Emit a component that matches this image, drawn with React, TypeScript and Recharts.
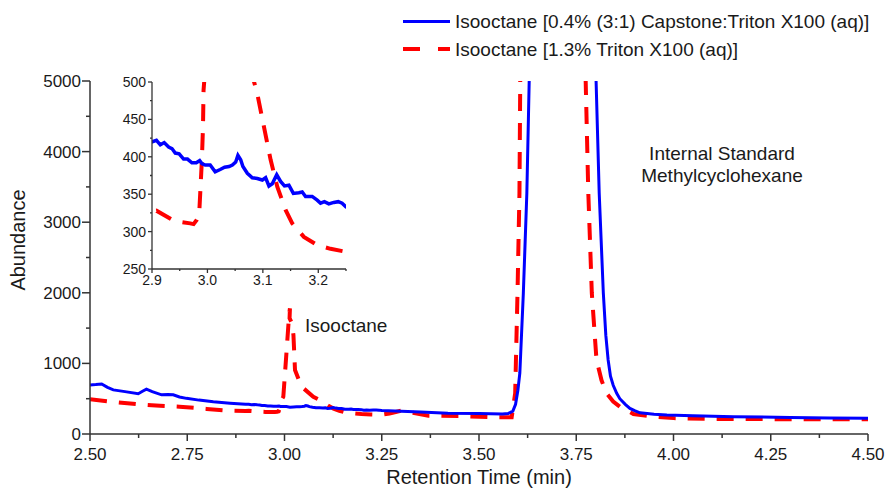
import React from 'react';
import { LineChart, Line, XAxis, YAxis } from 'recharts';

// ---------- data ----------
const blueTimes = [
  2.5, 2.515, 2.53, 2.545, 2.56, 2.59, 2.624, 2.635, 2.645, 2.66, 2.684, 2.7, 2.714, 2.73, 2.748, 2.78, 2.817, 2.86,
  2.9, 2.908, 2.915, 2.922, 2.93, 2.936, 2.942, 2.949, 2.957, 2.964, 2.972, 2.98, 2.986, 2.99, 2.996, 3.005, 3.014,
  3.023, 3.031, 3.039, 3.045, 3.051, 3.055, 3.06, 3.064, 3.072, 3.081, 3.09, 3.099, 3.105, 3.111, 3.117, 3.125,
  3.132, 3.139, 3.147, 3.155, 3.165, 3.171, 3.177, 3.189, 3.198, 3.204, 3.211, 3.219, 3.228, 3.236, 3.243, 3.25,
  3.3, 3.35, 3.42, 3.5, 3.56, 3.575, 3.587, 3.594, 3.6, 3.605, 3.614, 3.623, 3.629, 3.64, 3.7, 3.76, 3.795, 3.801,
  3.809, 3.8196, 3.826, 3.832, 3.838, 3.845, 3.854, 3.862, 3.876, 3.888, 3.9, 3.914, 3.95, 3.983, 4.05, 4.154, 4.3, 4.4, 4.5,
];
const blueValues = [
  694, 700, 708, 660, 625, 600, 570, 605, 635, 600, 555, 560, 555, 525, 505, 480, 457, 437,
  420, 422, 416, 419, 413, 411, 405, 404, 397, 397, 392, 392, 395, 391, 389, 389, 380,
  383, 386, 387, 389, 393, 402, 396, 387, 378, 372, 371, 369, 372, 361, 364, 376,
  367, 361, 362, 351, 352, 353, 347, 347, 342, 338, 340, 337, 339, 340, 338, 333,
  322, 310, 293, 290, 283, 290, 325, 420, 620, 864, 1997, 3414, 4990, 8000, 20000, 14000, 6500, 5000,
  3414, 1997, 1400, 1048, 820, 690, 576, 500, 420, 363, 330, 300, 280, 269, 258, 245, 235, 228, 222,
];

const redTimes = [
  2.5, 2.55, 2.624, 2.68, 2.73, 2.8, 2.86, 2.9, 2.908, 2.936, 2.951, 2.969, 2.975, 2.981, 2.985, 2.987, 2.99,
  2.992, 2.993, 2.997, 3.005, 3.012, 3.014, 3.013, 3.019, 3.023, 3.027, 3.044, 3.074, 3.09, 3.102, 3.114, 3.126,
  3.141, 3.153, 3.174, 3.198, 3.222, 3.25, 3.27, 3.3, 3.33, 3.37, 3.45, 3.545, 3.584, 3.593, 3.599, 3.604, 3.606,
  3.62, 3.68, 3.74, 3.77, 3.775, 3.781, 3.79, 3.802, 3.815, 3.828, 3.845, 3.862, 3.897, 3.948, 4.0, 4.1, 4.3, 4.5,
];
const redValues = [
  491, 460, 420, 400, 387, 355, 330, 327, 328, 316, 313, 311, 310, 316, 322, 351, 396,
  440, 489, 528, 1150, 1700, 1780, 1640, 1570, 1400, 906, 670, 528, 484, 440, 396, 360,
  329, 311, 293, 282, 277, 273, 290, 330, 300, 260, 255, 236, 236, 576, 1997, 3414, 5000,
  9000, 20000, 12000, 6000, 4823, 3414, 1997, 1053, 760, 576, 460, 387, 283, 245, 225, 212, 210, 208,
];

const seriesNames = [
  'Isooctane [0.4% (3:1) Capstone:Triton X100 (aq)]',
  'Isooctane [1.3% Triton X100 (aq)]',
];

const mainXTicks = [2.5, 2.625, 2.75, 2.875, 3.0, 3.125, 3.25, 3.375, 3.5, 3.625, 3.75, 3.875, 4.0, 4.125, 4.25, 4.375, 4.5];
const mainYTicks = [0, 500, 1000, 1500, 2000, 2500, 3000, 3500, 4000, 4500, 5000];
const insetXTicks = [2.9, 2.95, 3.0, 3.05, 3.1, 3.15, 3.2, 3.25];
const insetYTicks = [250, 275, 300, 325, 350, 375, 400, 425, 450, 475, 500];

// ---------- style ----------
const BLUE = '#0000ff';
const RED = '#ff0000';
const AXIS = '#333333';
const TXT = '#1a1a1a';
const FONT = '"Liberation Sans", Arial, sans-serif';
const DASH = '17 12';

const blueData = blueTimes.map((t, i) => ({ t, v: blueValues[i] }));
const redData = redTimes.map((t, i) => ({ t, v: redValues[i] }));

const isMult = (v: number, step: number) => Math.abs(v / step - Math.round(v / step)) < 1e-6;

const MainXTick = (p: any) => {
  const { x, y, payload } = p;
  const v = payload.value as number;
  const major = isMult(v, 0.25);
  return (
    <g>
      <line x1={x} y1={y} x2={x} y2={y + (major ? 7 : 4)} stroke={AXIS} strokeWidth={1.5} />
      {major && (
        <text x={x} y={y + 26} textAnchor="middle" fontSize={17} fill={TXT} fontFamily={FONT}>
          {v.toFixed(2)}
        </text>
      )}
    </g>
  );
};

const MainYTick = (p: any) => {
  const { x, y, payload } = p;
  const v = payload.value as number;
  const major = isMult(v, 1000);
  return (
    <g>
      <line x1={x} y1={y} x2={x - (major ? 8 : 4)} y2={y} stroke={AXIS} strokeWidth={1.5} />
      {major && (
        <text x={x - 9} y={y + 6} textAnchor="end" fontSize={17} fill={TXT} fontFamily={FONT}>
          {v}
        </text>
      )}
    </g>
  );
};

const InsetXTick = (p: any) => {
  const { x, y, payload } = p;
  const v = payload.value as number;
  const major = isMult(v, 0.1);
  return (
    <g>
      <line x1={x} y1={y} x2={x} y2={y + (major ? 4 : 2)} stroke={AXIS} strokeWidth={1.3} />
      {major && (
        <text x={x} y={y + 16} textAnchor="middle" fontSize={14} fill={TXT} fontFamily={FONT}>
          {v.toFixed(1)}
        </text>
      )}
    </g>
  );
};

const InsetYTick = (p: any) => {
  const { x, y, payload } = p;
  const v = payload.value as number;
  const major = isMult(v, 50);
  return (
    <g>
      <line x1={x} y1={y} x2={x - (major ? 4 : 2)} y2={y} stroke={AXIS} strokeWidth={1.3} />
      {major && (
        <text x={x - 6} y={y + 5} textAnchor="end" fontSize={14} fill={TXT} fontFamily={FONT}>
          {v}
        </text>
      )}
    </g>
  );
};

export default function App() {
  return (
    <div style={{ position: 'absolute', left: 0, top: 0, width: 885, height: 490, background: '#fff', fontFamily: FONT, overflow: 'hidden' }}>
      <LineChart width={885} height={490} margin={{ top: 81, right: 17, left: 0, bottom: 0 }}>
        <XAxis
          dataKey="t"
          type="number"
          domain={[2.5, 4.5]}
          ticks={mainXTicks}
          interval={0}
          allowDataOverflow
          height={56}
          tickSize={0}
          tickMargin={0}
          tickLine={false}
          axisLine={{ stroke: AXIS, strokeWidth: 1.5 }}
          tick={MainXTick}
        />
        <YAxis
          type="number"
          domain={[0, 5000]}
          ticks={mainYTicks}
          interval={0}
          allowDataOverflow
          width={90}
          tickSize={0}
          tickMargin={0}
          tickLine={false}
          axisLine={{ stroke: AXIS, strokeWidth: 1.5 }}
          tick={MainYTick}
        />
        <Line data={redData} dataKey="v" name={seriesNames[1]} stroke={RED} strokeWidth={4} strokeDasharray={DASH} dot={false} isAnimationActive={false} />
        <Line data={blueData} dataKey="v" name={seriesNames[0]} stroke={BLUE} strokeWidth={3} dot={false} isAnimationActive={false} />
      </LineChart>

      <div style={{ position: 'absolute', left: 100, top: 70 }}>
        <LineChart width={260} height={230} margin={{ top: 12, right: 14, left: 0, bottom: 0 }}>
          <XAxis
            dataKey="t"
            type="number"
            domain={[2.9, 3.25]}
            ticks={insetXTicks}
            interval={0}
            allowDataOverflow
            height={31}
            tickSize={0}
            tickMargin={0}
            tickLine={false}
            axisLine={{ stroke: AXIS, strokeWidth: 1.3 }}
            tick={InsetXTick}
          />
          <YAxis
            type="number"
            domain={[250, 500]}
            ticks={insetYTicks}
            interval={0}
            allowDataOverflow
            width={52}
            tickSize={0}
            tickMargin={0}
            tickLine={false}
            axisLine={{ stroke: AXIS, strokeWidth: 1.3 }}
            tick={InsetYTick}
          />
          <Line data={redData} dataKey="v" stroke={RED} strokeWidth={4} strokeDasharray={DASH} dot={false} isAnimationActive={false} />
          <Line data={blueData} dataKey="v" stroke={BLUE} strokeWidth={3.5} dot={false} isAnimationActive={false} />
        </LineChart>
      </div>

      <svg width={885} height={490} style={{ position: 'absolute', left: 0, top: 0, pointerEvents: 'none' }}>
        <g fontFamily={FONT} fill={TXT}>
          {/* legend */}
          <line x1={403} y1={21.5} x2={450} y2={21.5} stroke={BLUE} strokeWidth={3} />
          <text x={455} y={28} fontSize={19}>{seriesNames[0]}</text>
          <line x1={403} y1={49} x2={450} y2={49} stroke={RED} strokeWidth={4} strokeDasharray="17 18" />
          <text x={455} y={55.5} fontSize={19}>{seriesNames[1]}</text>
          {/* annotations */}
          <text x={305} y={332} fontSize={19}>Isooctane</text>
          <text x={722} y={160} fontSize={19} textAnchor="middle">Internal Standard</text>
          <text x={722} y={182} fontSize={19} textAnchor="middle">Methylcyclohexane</text>
          {/* axis titles */}
          <text x={25} y={240} fontSize={20} textAnchor="middle" transform="rotate(-90 25 240)">Abundance</text>
          <text x={479} y={484} fontSize={20} textAnchor="middle">Retention Time (min)</text>
        </g>
      </svg>
    </div>
  );
}
